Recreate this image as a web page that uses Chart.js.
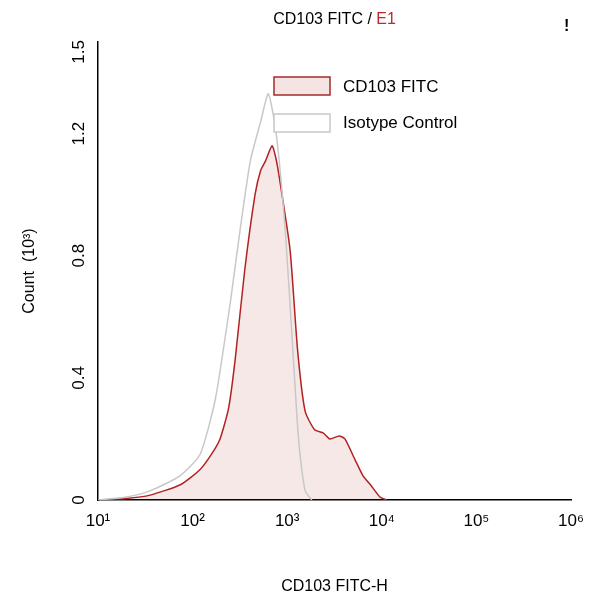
<!DOCTYPE html>
<html><head><meta charset="utf-8">
<script src="https://cdn.jsdelivr.net/npm/chart.js@4"></script>
<style>body{margin:0;background:#fff}#wrap{width:593px;height:600px}</style>
</head><body><div id="wrap"><canvas id="c"></canvas></div>
<script>
const xTicks = [10, 100, 1000, 10000, 100000, 1000000];
const xTickLabels = ['10¹', '10²', '10³', '10⁴', '10⁵', '10⁶'];
const yTicks = [0, 0.4, 0.8, 1.2, 1.5];
const yTickLabels = ['0', '0.4', '0.8', '1.2', '1.5'];
// log10 of FITC-H and count (10^3)
const cd103Log = [1.0, 1.3, 1.55, 1.87, 2.08, 2.2, 2.29, 2.38, 2.45, 2.55, 2.66, 2.72, 2.77, 2.84, 2.88, 2.92, 3.03, 3.11, 3.19, 3.29, 3.38, 3.45, 3.55, 3.61, 3.72, 3.8, 3.88, 3.98, 4.05];
const cd103Count = [0.0, 0.005, 0.016, 0.05, 0.1, 0.15, 0.2, 0.3, 0.46, 0.75, 1.0, 1.08, 1.11, 1.16, 1.12, 1.05, 0.82, 0.49, 0.29, 0.23, 0.22, 0.2, 0.21, 0.2, 0.13, 0.08, 0.05, 0.01, 0.0];
const isoLog = [1.0, 1.3, 1.55, 1.87, 2.08, 2.24, 2.4, 2.5, 2.61, 2.72, 2.8, 2.88, 2.98, 3.06, 3.12, 3.19, 3.26];
const isoCount = [0.0, 0.01, 0.03, 0.08, 0.15, 0.33, 0.65, 0.88, 1.11, 1.24, 1.33, 1.21, 0.88, 0.49, 0.2, 0.03, 0.0];

const pts = (l, c) => l.map((v, i) => ({ x: Math.pow(10, v), y: c[i] }));
const FONT = '"Liberation Sans", Arial, sans-serif';

const decor = {
  id: 'decor',
  afterDraw(chart) {
    const { ctx, chartArea: a, scales } = chart;
    ctx.save();
    ctx.font = '17px ' + FONT;
    ctx.fillStyle = '#000';
    yTicks.forEach((v, i) => {
      const py = scales.y.getPixelForValue(v);
      ctx.save();
      ctx.translate(a.left - 10, py);
      ctx.rotate(-Math.PI / 2);
      ctx.textAlign = i === yTicks.length - 1 ? 'right' : 'center';
      ctx.textBaseline = 'bottom';
      ctx.fillText(yTickLabels[i], i === yTicks.length - 1 ? 2 : 0, 0);
      ctx.restore();
    });
    ctx.font = '16px ' + FONT;
    ctx.textBaseline = 'middle';
    ctx.textAlign = 'left';
    const t1 = 'CD103 FITC / ', t2 = 'E1';
    const w = ctx.measureText(t1 + t2).width;
    const tx = (a.left + a.right) / 2 - w / 2;
    ctx.fillText(t1, tx, 20);
    ctx.fillStyle = '#c0282e';
    ctx.fillText(t2, tx + ctx.measureText(t1).width, 20);
    ctx.fillStyle = '#000';
    ctx.font = 'bold 16px ' + FONT;
    ctx.fillText('!', 564, 27);
    ctx.font = '17px ' + FONT;
    ctx.fillStyle = '#f5e4e4';
    ctx.strokeStyle = '#a52a2a';
    ctx.lineWidth = 1.5;
    ctx.fillRect(274, 77, 56, 18); ctx.strokeRect(274, 77, 56, 18);
    ctx.fillStyle = '#fff';
    ctx.strokeStyle = '#c8c8c8';
    ctx.fillRect(274, 114, 56, 18); ctx.strokeRect(274, 114, 56, 18);
    ctx.fillStyle = '#000';
    ctx.fillText('CD103 FITC', 343, 87);
    ctx.fillText('Isotype Control', 343, 123);
    ctx.restore();
  }
};

new Chart(document.getElementById('c'), {
  type: 'scatter',
  data: {
    datasets: [
      {
        label: 'Isotype Control',
        data: pts(isoLog, isoCount),
        showLine: true,
        borderColor: '#c8c8c8',
        borderWidth: 1.5,
        pointRadius: 0,
        tension: 0.2,
        fill: false
      },
      {
        label: 'CD103 FITC',
        data: pts(cd103Log, cd103Count),
        showLine: true,
        borderColor: '#b22222',
        backgroundColor: 'rgba(178,34,34,0.1)',
        borderWidth: 1.5,
        pointRadius: 0,
        tension: 0.2,
        fill: 'origin'
      }
    ]
  },
  options: {
    responsive: true,
    maintainAspectRatio: false,
    animation: false,
    layout: { padding: { left: 0, top: 42, right: 22, bottom: 0 } },
    plugins: { legend: { display: false }, tooltip: { enabled: false } },
    scales: {
      x: {
        type: 'logarithmic',
        min: 10, max: 1000000,
        afterBuildTicks: s => { s.ticks = xTicks.map(v => ({ value: v })); },
        afterFit: s => { s.height = 100; },
        grid: { display: false },
        border: { color: '#000', width: 1.5 },
        ticks: {
          color: '#000', font: { size: 17, family: 'Liberation Sans' },
          callback: (v) => xTickLabels[xTicks.indexOf(v)] ?? ''
        },
        title: { display: true, text: 'CD103 FITC-H', color: '#000', font: { size: 16, family: 'Liberation Sans' }, padding: { top: 20 } }
      },
      y: {
        min: 0, max: 1.5,
        afterBuildTicks: s => { s.ticks = yTicks.map(v => ({ value: v })); },
        afterFit: s => { s.width = 98; },
        grid: { display: false },
        border: { color: '#000', width: 1.5 },
        ticks: { display: false },
        title: { display: true, text: 'Count  (10³)', color: '#000', font: { size: 16, family: 'Liberation Sans' }, padding: { top: 20, bottom: 0 } }
      }
    }
  },
  plugins: [decor]
});
</script></body></html>
